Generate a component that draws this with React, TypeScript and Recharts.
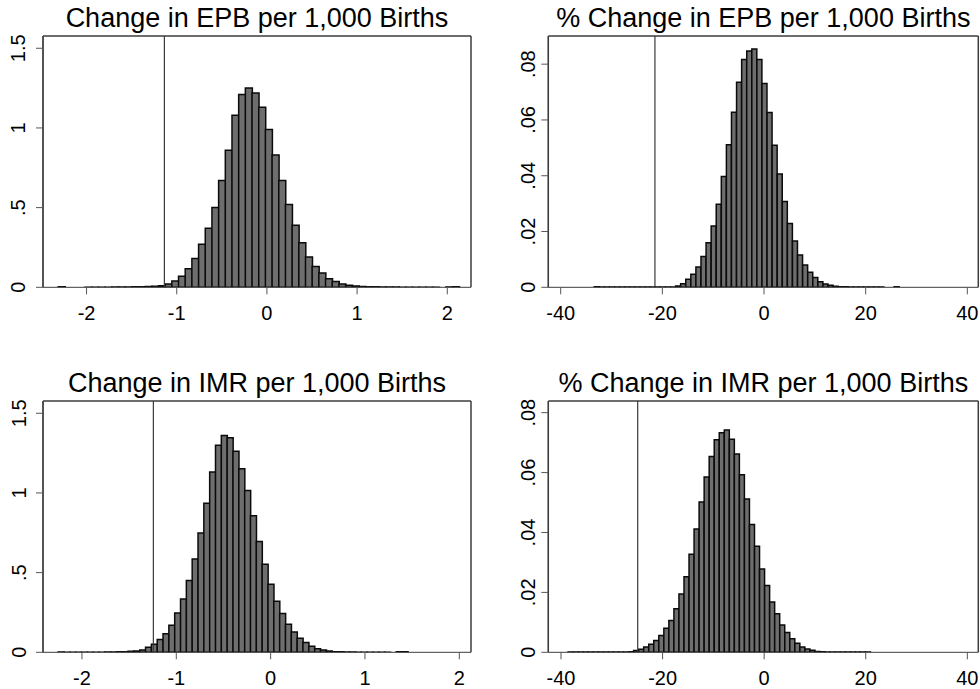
import React from "react";
import {
  Bar,
  ComposedChart,
  ReferenceLine,
  XAxis,
  YAxis,
} from "recharts";

// ---- data (60 bins per histogram) ----

const epbStart = -2.314;
const epbWidth = 0.0741;
const epbDensity = [
  0.004, 0, 0, 0, 0.001, 0.001, 0.001, 0.001, 0.0015, 0.002,
  0.002, 0.003, 0.004, 0.005, 0.007, 0.01, 0.02, 0.04, 0.07, 0.117,
  0.18, 0.27, 0.37, 0.5, 0.67, 0.86, 1.08, 1.21, 1.25, 1.22,
  1.13, 0.99, 0.83, 0.67, 0.52, 0.39, 0.28, 0.19, 0.13, 0.09,
  0.054, 0.036, 0.02, 0.013, 0.008, 0.005, 0.004, 0.003, 0.002, 0.002,
  0.0015, 0.001, 0.001, 0.001, 0.001, 0.001, 0.0005, 0, 0.002, 0.003,
];
const epbCutoff = -1.137;

const epbPctStart = -33.4;
const epbPctWidth = 1.0;
const epbPctDensity = [
  0.0002, 0.0001, 0.0001, 0.0001, 0.0001, 0.0001, 0.0001, 0.0001, 0.0001, 0.0001,
  0.0001, 0.0001, 0.0001, 0.0001, 0.0001, 0.0001, 0.0005, 0.0013, 0.0029, 0.0047,
  0.0073, 0.011, 0.016, 0.022, 0.0298, 0.0397, 0.0511, 0.0628, 0.0735, 0.0817,
  0.0847, 0.0854, 0.0817, 0.0731, 0.0627, 0.0509, 0.0406, 0.0308, 0.0229, 0.0166,
  0.0116, 0.008, 0.0054, 0.0035, 0.002, 0.0012, 0.0007, 0.0004, 0.0002, 0.0002,
  0.0001, 0.0001, 0.0001, 0.0001, 0.0001, 0.0001, 0.0001, 0, 0, 0.0002,
];
const epbPctCutoff = -21.46;

const imrStart = -2.253;
const imrWidth = 0.0618;
const imrDensity = [
  0.002, 0.001, 0.001, 0.001, 0.001, 0.001, 0.001, 0.001, 0.002, 0.002,
  0.003, 0.004, 0.006, 0.008, 0.015, 0.031, 0.05, 0.08, 0.117, 0.17,
  0.247, 0.335, 0.45, 0.585, 0.749, 0.935, 1.131, 1.3, 1.361, 1.347,
  1.261, 1.152, 1.016, 0.857, 0.696, 0.552, 0.427, 0.32, 0.243, 0.176,
  0.128, 0.088, 0.061, 0.038, 0.023, 0.015, 0.008, 0.004, 0.003, 0.002,
  0.002, 0.001, 0.001, 0.001, 0.001, 0.001, 0.001, 0, 0.003, 0.003,
];
const imrCutoff = -1.243;

const imrPctStart = -38.6;
const imrPctWidth = 0.992;
const imrPctDensity = [
  0.0001, 0.0001, 0.0001, 0.0001, 0.0001, 0.0001, 0.0001, 0.0001, 0.0001, 0.0001,
  0.0001, 0.0001, 0.0002, 0.0006, 0.001, 0.0018, 0.0027, 0.0039, 0.0056, 0.008,
  0.0106, 0.0145, 0.0195, 0.0252, 0.0327, 0.0412, 0.0502, 0.0585, 0.0654, 0.071,
  0.0733, 0.0742, 0.0711, 0.0662, 0.0593, 0.0512, 0.0427, 0.0354, 0.0278, 0.0223,
  0.0168, 0.0129, 0.0091, 0.0066, 0.0045, 0.003, 0.0018, 0.0011, 0.0007, 0.0003,
  0.0002, 0.0001, 0.0001, 0.0001, 0.0001, 0.0001, 0.0001, 0.0001, 0.0001, 0.0001,
];
const imrPctCutoff = -24.9;

const levelXTicks = [-2, -1, 0, 1, 2];
const pctXTicks = [-40, -20, 0, 20, 40];
const levelYTicks = [0, 0.5, 1, 1.5];
const levelYLabels = ["0", ".5", "1", "1.5"];
const pctYTicks = [0, 0.02, 0.04, 0.06, 0.08];
const pctYLabels = ["0", ".02", ".04", ".06", ".08"];

const titles = [
  "Change in EPB per 1,000 Births",
  "% Change in EPB per 1,000 Births",
  "Change in IMR per 1,000 Births",
  "% Change in IMR per 1,000 Births",
];

const FONT = '"Liberation Sans", Arial, Helvetica, sans-serif';
const FRAME = "#3c3c3c";

function toBins(start: number, width: number, heights: number[]) {
  return heights.map((h, i) => ({ x: start + (i + 0.5) * width, h }));
}

type PanelProps = {
  title: string;
  left: number;
  top: number;
  width: number;
  height: number;
  plot: { l: number; t: number; r: number; b: number };
  titleBaseline: number;
  data: { x: number; h: number }[];
  xDomain: [number, number];
  xTicks: number[];
  yDomain: [number, number];
  yTicks: number[];
  yLabels: string[];
  yLabelGap: number;
  cutoff: number;
};

function Panel(p: PanelProps) {
  const yAxisWidth = p.plot.l - p.left;
  const xAxisHeight = 40;
  const margin = {
    top: p.plot.t - p.top,
    left: 0,
    right: p.left + p.width - p.plot.r,
    bottom: p.top + p.height - p.plot.b - xAxisHeight,
  };
  const YTick = (props: any) => {
    const { x, y, index } = props;
    return (
      <text
        transform={`translate(${x},${y}) rotate(-90)`}
        textAnchor="middle"
        fontSize={20}
        fontFamily={FONT}
        fill="#000"
      >
        {p.yLabels[index]}
      </text>
    );
  };
  return (
    <div style={{ position: "absolute", left: p.left, top: p.top }}>
      <ComposedChart
        width={p.width}
        height={p.height}
        data={p.data}
        margin={margin}
        barCategoryGap={0}
        barGap={0}
      >
        <XAxis
          xAxisId="bottom"
          type="number"
          dataKey="x"
          domain={p.xDomain}
          ticks={p.xTicks}
          allowDataOverflow
          height={xAxisHeight}
          tickSize={7}
          tickMargin={11}
          stroke={FRAME}
          tick={{ fontSize: 20, fontFamily: FONT, fill: "#000" }}
          tickLine={{ stroke: "#555" }}
        />
        <YAxis
          yAxisId="left"
          type="number"
          domain={p.yDomain}
          ticks={p.yTicks}
          allowDataOverflow
          width={yAxisWidth}
          tickSize={7}
          tickMargin={p.yLabelGap}
          stroke={FRAME}
          tick={<YTick />}
          tickLine={{ stroke: "#555" }}
        />
        <Bar
          xAxisId="bottom"
          yAxisId="left"
          dataKey="h"
          fill="#6e6e6e"
          stroke="#0a0a0a"
          strokeWidth={1.5}
          isAnimationActive={false}
        />
        {/* plot-region frame: top, left and right edges */}
        <ReferenceLine xAxisId="bottom" yAxisId="left" y={p.yDomain[1]} stroke={FRAME} strokeWidth={1.5} />
        <ReferenceLine xAxisId="bottom" yAxisId="left" x={p.xDomain[0]} stroke={FRAME} strokeWidth={1.5} />
        <ReferenceLine xAxisId="bottom" yAxisId="left" x={p.xDomain[1]} stroke={FRAME} strokeWidth={1.5} />
        <ReferenceLine
          xAxisId="bottom"
          yAxisId="left"
          x={p.cutoff}
          stroke="#3a3a3a"
          strokeWidth={1.2}
        />
      </ComposedChart>
      <svg
        width={p.width}
        height={p.height}
        style={{ position: "absolute", left: 0, top: 0, pointerEvents: "none" }}
      >
        <text
          x={(p.plot.l + p.plot.r) / 2 - p.left}
          y={p.titleBaseline - p.top}
          textAnchor="middle"
          fontSize={27}
          fontFamily={FONT}
          fill="#000"
        >
          {p.title}
        </text>
      </svg>
    </div>
  );
}

export default function App() {
  return (
    <div
      style={{
        position: "absolute",
        left: 0,
        top: 0,
        width: 980,
        height: 689,
        background: "#fff",
        overflow: "hidden",
      }}
    >
      <Panel
        title={titles[0]}
        left={0}
        top={0}
        width={490}
        height={340}
        plot={{ l: 43, t: 36, r: 471, b: 287.3 }}
        titleBaseline={27.3}
        data={toBins(epbStart, epbWidth, epbDensity)}
        xDomain={[-2.483, 2.263]}
        xTicks={levelXTicks}
        yDomain={[0, 1.577]}
        yTicks={levelYTicks}
        yLabels={levelYLabels}
        yLabelGap={11}
        cutoff={epbCutoff}
      />
      <Panel
        title={titles[1]}
        left={490}
        top={0}
        width={490}
        height={340}
        plot={{ l: 548.3, t: 36, r: 978.3, b: 287.3 }}
        titleBaseline={27}
        data={toBins(epbPctStart, epbPctWidth, epbPctDensity)}
        xDomain={[-42.44, 42.16]}
        xTicks={pctXTicks}
        yDomain={[0, 0.0901]}
        yTicks={pctYTicks}
        yLabels={pctYLabels}
        yLabelGap={6.5}
        cutoff={epbPctCutoff}
      />
      <Panel
        title={titles[2]}
        left={0}
        top={345}
        width={490}
        height={344}
        plot={{ l: 43, t: 401, r: 471, b: 652.3 }}
        titleBaseline={391.7}
        data={toBins(imrStart, imrWidth, imrDensity)}
        xDomain={[-2.413, 2.124]}
        xTicks={levelXTicks}
        yDomain={[0, 1.577]}
        yTicks={levelYTicks}
        yLabels={levelYLabels}
        yLabelGap={10}
        cutoff={imrCutoff}
      />
      <Panel
        title={titles[3]}
        left={490}
        top={345}
        width={490}
        height={344}
        plot={{ l: 548.3, t: 401, r: 978.3, b: 652.3 }}
        titleBaseline={391.7}
        data={toBins(imrPctStart, imrPctWidth, imrPctDensity)}
        xDomain={[-42.5, 42.16]}
        xTicks={pctXTicks}
        yDomain={[0, 0.0839]}
        yTicks={pctYTicks}
        yLabels={pctYLabels}
        yLabelGap={6.5}
        cutoff={imrPctCutoff}
      />
    </div>
  );
}
